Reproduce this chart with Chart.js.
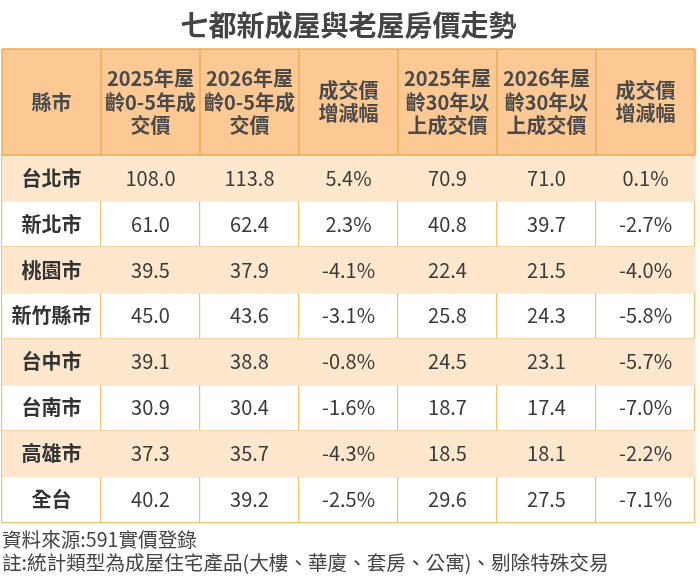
<!DOCTYPE html>
<html>
<head>
<meta charset="utf-8">
<script src="https://cdn.jsdelivr.net/npm/chart.js@4.4.1/dist/chart.umd.min.js"></script>
<style>
  html, body { margin: 0; padding: 0; background: #fff; }
  #wrap { width: 700px; height: 585px; }
</style>
</head>
<body>
<div id="wrap"><canvas id="priceTable"></canvas></div>
<script>
const cities = ['台北市', '新北市', '桃園市', '新竹縣市', '台中市', '台南市', '高雄市', '全台'];
const headers = [
  ['縣市'],
  ['2025年屋', '齡0-5年成', '交價'],
  ['2026年屋', '齡0-5年成', '交價'],
  ['成交價', '增減幅'],
  ['2025年屋', '齡30年以', '上成交價'],
  ['2026年屋', '齡30年以', '上成交價'],
  ['成交價', '增減幅']
];
const newPrice2025 = [108.0, 61.0, 39.5, 45.0, 39.1, 30.9, 37.3, 40.2];
const newPrice2026 = [113.8, 62.4, 37.9, 43.6, 38.8, 30.4, 35.7, 39.2];
const newChange = [5.4, 2.3, -4.1, -3.1, -0.8, -1.6, -4.3, -2.5];
const oldPrice2025 = [70.9, 40.8, 22.4, 25.8, 24.5, 18.7, 18.5, 29.6];
const oldPrice2026 = [71.0, 39.7, 21.5, 24.3, 23.1, 17.4, 18.1, 27.5];
const oldChange = [0.1, -2.7, -4.0, -5.8, -5.7, -7.0, -2.2, -7.1];

const FONT = '"Noto Sans CJK TC", "Noto Sans", sans-serif';
const HEADER_H = 106;

// one entry per column after the city name
const columns = [
  { values: newPrice2025, pct: false },
  { values: newPrice2026, pct: false },
  { values: newChange, pct: true },
  { values: oldPrice2025, pct: false },
  { values: oldPrice2026, pct: false },
  { values: oldChange, pct: true }
];

// striped rows: every other city gets a full-width floating bar
const stripes = cities.map((c, i) => (i % 2 === 0 ? [0, headers.length] : null));

const tablePlugin = {
  id: 'tablePlugin',
  afterDraw(chart) {
    const { ctx, chartArea, scales: { x, y } } = chart;
    const top = chartArea.top - HEADER_H;
    const bottom = chartArea.top;
    const left = x.getPixelForValue(0);
    const right = x.getPixelForValue(headers.length);

    ctx.save();
    // header band
    ctx.fillStyle = '#fcc994';
    ctx.fillRect(left, top, right - left, HEADER_H);
    ctx.strokeStyle = '#f0aa52';
    ctx.lineWidth = 1.5;
    ctx.beginPath();
    for (let c = 0; c <= headers.length; c++) {
      const px = x.getPixelForValue(c);
      ctx.moveTo(px, top);
      ctx.lineTo(px, bottom);
    }
    ctx.moveTo(left, top);
    ctx.lineTo(right, top);
    ctx.moveTo(left, bottom);
    ctx.lineTo(right, bottom);
    ctx.stroke();

    ctx.textAlign = 'center';
    ctx.textBaseline = 'middle';
    ctx.fillStyle = '#4a4a4a';
    ctx.font = 'bold 20px ' + FONT;
    const lineH = 23.5;
    const mid = (top + bottom) / 2;
    headers.forEach((lines, c) => {
      const cx = x.getPixelForValue(c + 0.5);
      lines.forEach((t, i) => {
        ctx.fillText(t, cx, mid + (i - (lines.length - 1) / 2) * lineH);
      });
    });

    // body cells
    cities.forEach((city, r) => {
      const cy = y.getPixelForValue(r);
      ctx.font = 'bold 20px ' + FONT;
      ctx.fillStyle = '#333333';
      ctx.fillText(city, x.getPixelForValue(0.5), cy);
      ctx.font = '20px ' + FONT;
      ctx.fillStyle = '#3a3a3a';
      columns.forEach((col, c) => {
        const v = col.values[r];
        const txt = v.toFixed(1) + (col.pct ? '%' : '');
        ctx.fillText(txt, x.getPixelForValue(c + 1.5), cy);
      });
    });
    ctx.restore();
  }
};

new Chart(document.getElementById('priceTable'), {
  type: 'bar',
  data: {
    labels: cities,
    datasets: [{
      data: stripes,
      backgroundColor: '#fee7cd',
      borderWidth: 0,
      barPercentage: 1,
      categoryPercentage: 1
    }]
  },
  options: {
    indexAxis: 'y',
    responsive: true,
    maintainAspectRatio: false,
    animation: false,
    layout: { padding: { left: 2, right: 5, top: 0, bottom: 0 } },
    scales: {
      x: {
        type: 'linear',
        min: 0,
        max: headers.length,
        z: 1,
        ticks: { display: false, stepSize: 1 },
        grid: { color: '#f3c46c', lineWidth: 1.2, drawTicks: false },
        border: { display: false }
      },
      y: {
        type: 'category',
        offset: true,
        z: 1,
        ticks: { display: false },
        grid: { offset: true, color: '#f3c46c', lineWidth: 1.2, drawTicks: false },
        border: { display: false }
      }
    },
    plugins: {
      legend: { display: false },
      tooltip: { enabled: false },
      title: {
        display: true,
        text: '七都新成屋與老屋房價走勢',
        color: '#444444',
        font: { family: FONT, size: 28, weight: 'bold', lineHeight: 1.2 },
        padding: { top: 9, bottom: 155 - 9 - 33.6 }
      },
      subtitle: {
        display: true,
        position: 'bottom',
        align: 'start',
        text: ['資料來源:591實價登錄', '註:統計類型為成屋住宅產品(大樓、華廈、套房、公寓)、剔除特殊交易'],
        color: '#444444',
        font: { family: FONT, size: 19.6, lineHeight: 1.18 },
        padding: { top: 5, bottom: 11 }
      }
    }
  },
  plugins: [tablePlugin]
});
</script>
</body>
</html>
